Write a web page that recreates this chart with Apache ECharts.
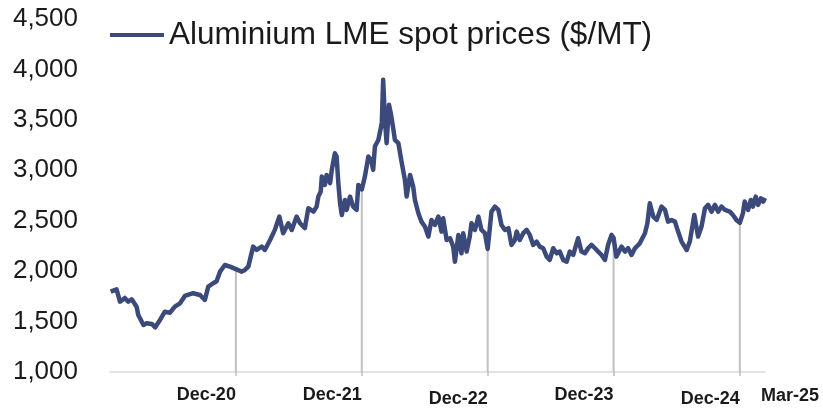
<!DOCTYPE html>
<html>
<head>
<meta charset="utf-8">
<script src="https://cdn.jsdelivr.net/npm/echarts@6/dist/echarts.min.js"></script>
<style>
  html, body { margin: 0; padding: 0; background: #fff; }
  #chart { width: 823px; height: 408px; }
</style>
</head>
<body>
<div id="chart"></div>
<script>
// LME aluminium spot ($/MT)
var priceDates = [
  '2020-01-03','2020-01-20','2020-01-30','2020-02-13','2020-02-23','2020-03-04','2020-03-18','2020-03-23',
  '2020-04-07','2020-04-16','2020-05-01','2020-05-11','2020-05-25','2020-06-08','2020-06-23','2020-07-07',
  '2020-07-22','2020-08-05','2020-08-29','2020-09-18','2020-10-02','2020-10-12','2020-10-26','2020-11-05',
  '2020-11-15','2020-11-29','2020-12-14','2020-12-31','2021-01-17','2021-01-26','2021-02-05','2021-02-19',
  '2021-03-01','2021-03-16','2021-03-25','2021-04-09','2021-04-23','2021-05-06','2021-05-17','2021-06-01',
  '2021-06-11','2021-06-25','2021-07-05','2021-07-19','2021-07-29','2021-08-13','2021-08-22','2021-08-27',
  '2021-09-03','2021-09-06','2021-09-15','2021-09-20','2021-09-30','2021-10-05','2021-10-14','2021-10-19',
  '2021-10-24','2021-10-29','2021-11-03','2021-11-12','2021-11-17','2021-11-27','2021-12-06','2021-12-16',
  '2021-12-21','2021-12-31','2022-01-09','2022-01-19','2022-01-27','2022-02-02','2022-02-07','2022-02-17',
  '2022-02-22','2022-02-27','2022-03-03','2022-03-08','2022-03-13','2022-03-20','2022-03-25','2022-04-01',
  '2022-04-06','2022-04-16','2022-04-26','2022-05-05','2022-05-10','2022-05-20','2022-05-29','2022-06-03',
  '2022-06-13','2022-06-22','2022-07-02','2022-07-12','2022-07-21','2022-07-31','2022-08-10','2022-08-19',
  '2022-08-24','2022-09-03','2022-09-13','2022-09-22','2022-09-27','2022-10-07','2022-10-16','2022-10-21',
  '2022-10-31','2022-11-09','2022-11-14','2022-11-24','2022-12-04','2022-12-13','2022-12-23','2022-12-31',
  '2023-01-11','2023-01-21','2023-01-31','2023-02-09','2023-02-19','2023-03-01','2023-03-10','2023-03-20',
  '2023-03-25','2023-04-03','2023-04-13','2023-04-23','2023-05-02','2023-05-12','2023-05-22','2023-05-31',
  '2023-06-10','2023-06-20','2023-06-29','2023-07-09','2023-07-19','2023-07-28','2023-08-07','2023-08-17',
  '2023-08-26','2023-09-05','2023-09-19','2023-09-29','2023-10-09','2023-10-18','2023-10-28','2023-11-07',
  '2023-11-16','2023-11-26','2023-12-06','2023-12-15','2023-12-25','2023-12-31','2024-01-08','2024-01-13',
  '2024-01-23','2024-02-02','2024-02-11','2024-02-21','2024-03-02','2024-03-16','2024-03-31','2024-04-07',
  '2024-04-14','2024-04-24','2024-05-04','2024-05-18','2024-05-28','2024-06-06','2024-06-16','2024-06-26',
  '2024-07-05','2024-07-15','2024-07-30','2024-08-08','2024-08-21','2024-09-01','2024-09-11','2024-09-21',
  '2024-09-30','2024-10-10','2024-10-20','2024-10-29','2024-11-08','2024-11-18','2024-12-02','2024-12-11',
  '2024-12-21','2024-12-31','2025-01-09','2025-01-14','2025-01-24','2025-02-01','2025-02-07','2025-02-15',
  '2025-02-22','2025-03-02','2025-03-09','2025-03-14'
];
var priceValues = [
  1797,1820,1697,1734,1697,1721,1648,1565,
  1466,1483,1476,1443,1516,1598,1588,1648,
  1681,1754,1781,1764,1714,1846,1880,1900,
  1995,2061,2045,2020,1995,2012,2045,2243,
  2210,2243,2210,2309,2409,2541,2376,2475,
  2409,2541,2475,2426,2624,2590,2640,2739,
  2789,2938,2855,2954,2872,3004,3169,3136,
  2872,2673,2557,2706,2607,2739,2640,2607,
  2855,2810,2938,3136,3103,3004,3235,3301,
  3384,3467,3897,3500,3269,3649,3566,3417,
  3301,3269,3070,2905,2739,2954,2838,2706,
  2574,2491,2442,2343,2508,2458,2541,2392,
  2524,2309,2326,2243,2094,2359,2177,2376,
  2194,2343,2475,2409,2541,2409,2376,2220,
  2590,2640,2607,2458,2409,2426,2260,2309,
  2392,2309,2376,2409,2359,2260,2293,2243,
  2227,2144,2111,2227,2177,2194,2111,2094,
  2194,2161,2326,2194,2177,2227,2260,2227,
  2194,2161,2111,2260,2359,2330,2144,2160,
  2243,2194,2227,2161,2227,2276,2376,2475,
  2673,2541,2508,2640,2607,2491,2508,2491,
  2392,2293,2210,2293,2557,2343,2442,2624,
  2657,2590,2657,2590,2640,2607,2590,2557,
  2508,2480,2574,2690,2607,2706,2640,2739,
  2657,2722,2690,2726
];
var dropDates = ['2020-12-31','2021-12-31','2022-12-31','2023-12-31','2024-12-31'];
var tickLabels = ['Dec-20','Dec-21','Dec-22','Dec-23','Dec-24'];
var endLabel = 'Mar-25';
var seriesName = 'Aluminium LME spot prices ($/MT)';

function toTime(s) {
  var p = s.split('-');
  return new Date(+p[0], +p[1] - 1, +p[2]).getTime();
}

var lineData = priceDates.map(function (d, i) { return [toTime(d), priceValues[i]]; });
var dropTimes = dropDates.map(toTime);
// drop lines reach up to the price on that date
var dropData = dropDates.map(function (d) {
  return [toTime(d), priceValues[priceDates.indexOf(d)]];
});

var chart = echarts.init(document.getElementById('chart'));
var option = {
  animation: false,
  textStyle: { fontFamily: 'Liberation Sans, Arial, sans-serif' },
  grid: { left: 110, right: 58, top: 19, bottom: 36 },
  legend: {
    data: [seriesName],
    left: 105,
    top: 14,
    icon: 'rect',
    itemWidth: 54,
    itemHeight: 4,
    textStyle: { fontSize: 31.5, color: '#1a1a1a' }
  },
  xAxis: {
    type: 'value',
    min: toTime('2020-01-01'),
    max: toTime('2025-03-14'),
    name: endLabel,
    nameLocation: 'end',
    nameGap: -4,
    nameTextStyle: {
      fontSize: 18, fontWeight: 'bold', color: '#1a1a1a',
      verticalAlign: 'top', padding: [15, 0, 0, 0]
    },
    axisLine: { lineStyle: { color: '#d9d9d9', width: 1.5 } },
    axisTick: {
      show: true, customValues: dropTimes, length: 4,
      lineStyle: { color: '#bfbfbf', width: 1.5 }
    },
    splitLine: { show: false },
    axisLabel: {
      customValues: dropTimes,
      align: 'right',
      margin: 14,
      formatter: function (v) {
        var i = dropTimes.indexOf(v);
        if (i < 0) return '';
        return (i === 2 || i === 4) ? '{lo|' + tickLabels[i] + '}' : '{hi|' + tickLabels[i] + '}';
      },
      rich: {
        hi: { fontSize: 18, fontWeight: 'bold', color: '#1a1a1a' },
        lo: { fontSize: 18, fontWeight: 'bold', color: '#1a1a1a', padding: [4, 0, 0, 0] }
      }
    }
  },
  yAxis: {
    type: 'value',
    min: 1000,
    max: 4500,
    interval: 500,
    axisLine: { show: false },
    axisTick: { show: false },
    splitLine: { show: false },
    axisLabel: {
      margin: 32,
      fontSize: 26,
      color: '#1a1a1a',
      formatter: function (v) { return v.toLocaleString('en-US'); }
    }
  },
  series: [
    {
      name: 'drop',
      type: 'bar',
      data: dropData,
      barWidth: 2,
      itemStyle: { color: '#c0c0c0' },
      silent: true,
      z: 1
    },
    {
      name: seriesName,
      type: 'line',
      data: lineData,
      symbol: 'none',
      lineStyle: { color: '#3b4a7b', width: 4.5, join: 'round' },
      itemStyle: { color: '#3b4a7b' },
      z: 3
    }
  ]
};
chart.setOption(option);
</script>
</body>
</html>
